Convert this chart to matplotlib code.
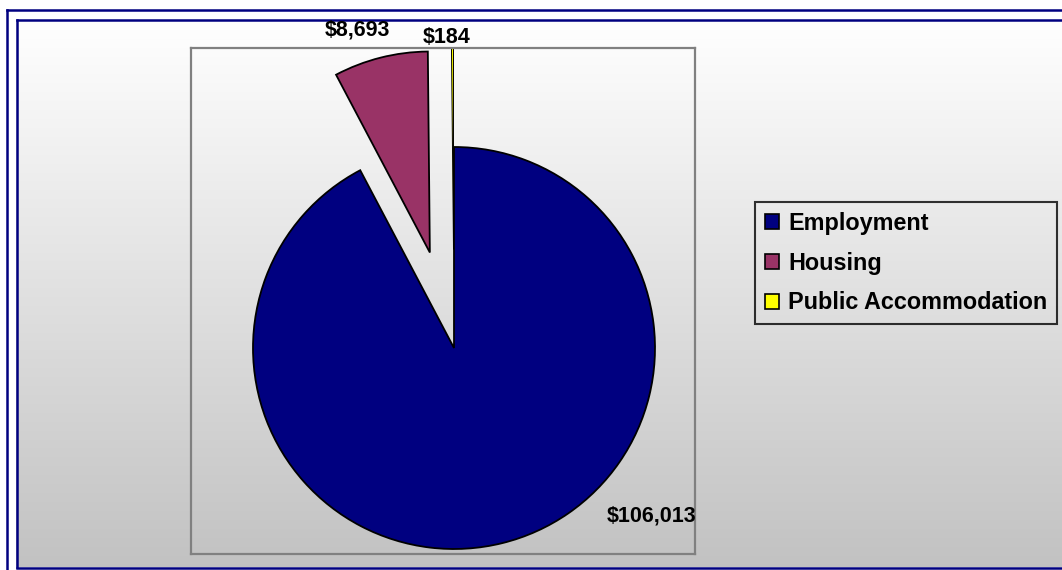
import numpy as np
import matplotlib
matplotlib.use("Agg")
import matplotlib.pyplot as plt
from matplotlib.lines import Line2D

plt.rcParams['font.family'] = ['Liberation Sans', 'DejaVu Sans']

categories = ["Employment", "Housing", "Public Accommodation"]
amounts = [106013, 8693, 184]
value_labels = ["$106,013", "$8,693", "$184"]
colors = ["#000080", "#993366", "#FFFF00"]
explode = [0.0, 0.49, 0.49]

W, H = 1062, 570
fig = plt.figure(figsize=(W / 100, H / 100), dpi=100)

# background: grey gradient + navy double border
bg = fig.add_axes([0, 0, 1, 1])
bg.set_xlim(0, W)
bg.set_ylim(H, 0)
bg.axis("off")
grad = np.linspace(0, 1, 300).reshape(-1, 1)
top, bottom = 1.0, 0.76
shade = top - (top - bottom) * grad
img = np.dstack([shade, shade, shade])
bg.imshow(img, extent=(16, W + 20, 567, 20), aspect="auto", zorder=0)
bg.add_patch(plt.Rectangle((0, 0), W, 20, color="white", zorder=0))
navy = "#000080"
bg.add_line(Line2D([7, 7], [10, H + 20], color=navy, lw=1.8))
bg.add_line(Line2D([7, W + 20], [10, 10], color=navy, lw=1.8))
bg.add_line(Line2D([16.5, 16.5], [20, 567], color=navy, lw=1.8))
bg.add_line(Line2D([16.5, W + 20], [20, 20], color=navy, lw=1.8))
bg.add_line(Line2D([16.5, W + 20], [567.5, 567.5], color=navy, lw=1.8))

# plot area (pixels): left 191, right 695, top 48, bottom 554
cx, cy, r = 454, 348, 201
left, right, ptop, pbot = 191, 695, 48, 554
ax = fig.add_axes([left / W, 1 - pbot / H, (right - left) / W, (pbot - ptop) / H])

wedges, _ = ax.pie(amounts, colors=colors, explode=explode, startangle=90,
                   counterclock=False,
                   wedgeprops=dict(edgecolor="black", linewidth=1.3))
wedges[2].set_linewidth(0.7)

ax.set_frame_on(True)
ax.set_facecolor("none")
ax.set_aspect("auto")
ax.set_xlim((left - cx) / r, (right - cx) / r)
ax.set_ylim(-(pbot - cy) / r, (cy - ptop) / r)
ax.set_xticks([])
ax.set_yticks([])
for s in ax.spines.values():
    s.set_visible(True)
    s.set_color("#808080")
    s.set_linewidth(1.6)

label_pos = [(0.985, -0.835), (-0.483, 1.58), (-0.035, 1.545)]
for (x, y), t in zip(label_pos, value_labels):
    ax.text(x, y, t, ha="center", va="center", fontsize=15.5,
            fontweight="bold", clip_on=False)

leg = fig.legend(wedges, categories, loc="upper left",
                 bbox_to_anchor=(755 / W, 1 - 202 / H),
                 bbox_transform=fig.transFigure, borderaxespad=0,
                 prop=dict(size=16.8, weight="bold"),
                 handlelength=0.6, handleheight=0.6, handletextpad=0.4,
                 labelspacing=0.72, borderpad=0.42, fancybox=False,
                 frameon=True)
leg.get_frame().set_edgecolor("black")
leg.get_frame().set_linewidth(1.5)
leg.get_frame().set_facecolor("none")
for h in leg.legend_handles:
    h.set_linewidth(1.2)

fig.savefig("out.png", dpi=100)
